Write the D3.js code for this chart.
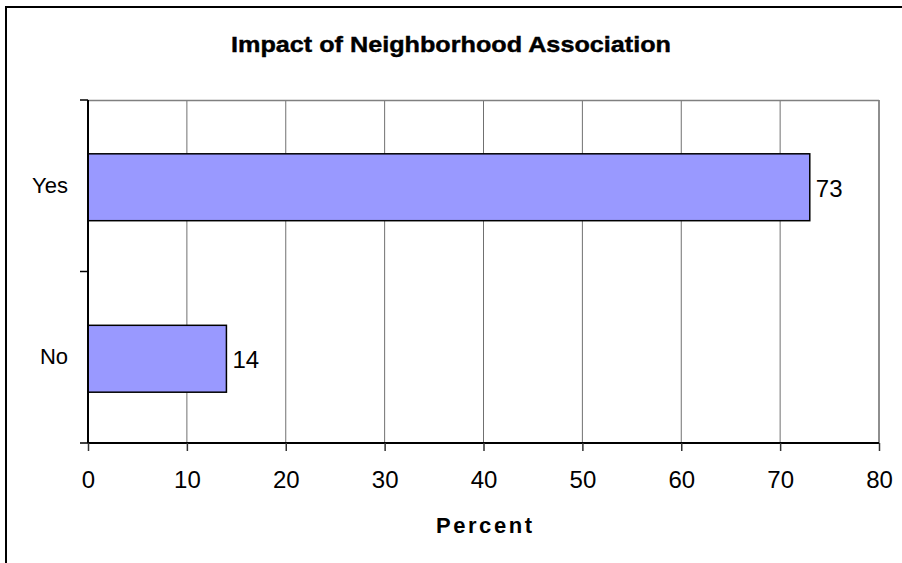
<!DOCTYPE html>
<html><head><meta charset="utf-8">
<script src="https://cdn.jsdelivr.net/npm/d3@7"></script>
<style>
html,body{margin:0;padding:0;background:#fff;}
svg{display:block;font-family:Arial,"Liberation Sans",sans-serif;}
</style></head>
<body>
<svg id="chart" width="902" height="563"></svg>
<script>
const categories = ["Yes", "No"];
const values = [73, 14];
const xTicks = [0, 10, 20, 30, 40, 50, 60, 70, 80];
const titleText = "Impact of Neighborhood Association";
const xAxisTitle = "Percent";

const svg = d3.select("#chart");
const plot = {left: 88, right: 879, top: 100, bottom: 443};

// outer border
svg.append("rect").attr("x", 6).attr("y", 7).attr("width", 1000).attr("height", 1000)
  .attr("fill", "none").attr("stroke", "#000").attr("stroke-width", 2);

const x = d3.scaleLinear().domain([0, 80]).range([plot.left, plot.right]);
const y = d3.scaleBand().domain(categories).range([plot.top, plot.bottom]).padding(0);

// gridlines
svg.append("g").selectAll("line").data(xTicks.slice(1)).join("line")
  .attr("x1", d => x(d)).attr("x2", d => x(d))
  .attr("y1", plot.top).attr("y2", plot.bottom)
  .attr("stroke", "#707070").attr("stroke-width", 1);
svg.append("line").attr("x1", plot.left).attr("x2", plot.right)
  .attr("y1", plot.top + 0.5).attr("y2", plot.top + 0.5)
  .attr("stroke", "#808080").attr("stroke-width", 1.5);
svg.append("line").attr("x1", plot.right).attr("x2", plot.right)
  .attr("y1", plot.top).attr("y2", plot.bottom)
  .attr("stroke", "#808080").attr("stroke-width", 1.5);

// bars
const barFrac = 0.39;
svg.append("g").selectAll("rect").data(categories).join("rect")
  .attr("x", x(0))
  .attr("y", (d) => y(d) + y.bandwidth() * (1 - barFrac) / 2 + 1.5)
  .attr("width", (d, i) => x(values[i]) - x(0))
  .attr("height", y.bandwidth() * barFrac)
  .attr("fill", "#9999FF").attr("stroke", "#000").attr("stroke-width", 1.5);

// value labels
svg.append("g").selectAll("text").data(categories).join("text")
  .attr("x", (d, i) => x(values[i]) + 6)
  .attr("y", d => y(d) + y.bandwidth() / 2 + 2.5)
  .attr("dy", "0.36em")
  .attr("font-size", 24).attr("fill", "#000")
  .text((d, i) => values[i]);

// x axis
const xAxis = svg.append("g").attr("transform", `translate(0,${plot.bottom})`)
  .call(d3.axisBottom(x).tickValues(xTicks).tickSize(8).tickPadding(20));
xAxis.select(".domain").attr("stroke", "#000").attr("stroke-width", 2).attr("d", `M${plot.left},0H${plot.right}`);
xAxis.selectAll(".tick line").attr("stroke", "#333").attr("stroke-width", 1.5);
xAxis.selectAll(".tick text").attr("font-size", 24).attr("font-family", "Arial, 'Liberation Sans', sans-serif").attr("fill", "#000");

// y axis
const yAxis = svg.append("g").attr("transform", `translate(${plot.left},0)`)
  .call(d3.axisLeft(y).tickSize(0).tickPadding(20));
yAxis.select(".domain").attr("stroke", "#000").attr("stroke-width", 2).attr("d", `M0,${plot.top}V${plot.bottom}`);
yAxis.selectAll(".tick text").attr("font-size", 22).attr("font-family", "Arial, 'Liberation Sans', sans-serif").attr("fill", "#000");
// category separator ticks
const sepPos = [plot.top, y("No"), plot.bottom];
svg.append("g").selectAll("line").data(sepPos).join("line")
  .attr("x1", plot.left - 8).attr("x2", plot.left)
  .attr("y1", d => d).attr("y2", d => d)
  .attr("stroke", "#000").attr("stroke-width", 1.5);

// title
svg.append("text").attr("x", 451).attr("y", 52).attr("text-anchor", "middle")
  .attr("font-size", 21).attr("font-weight", "bold")
  .attr("transform", "translate(451,52) scale(1,1.02) translate(-451,-52)")
  .attr("textLength", 440).attr("lengthAdjust", "spacingAndGlyphs")
  .style("stroke", "#000").style("stroke-width", 0.4)
  .text(titleText);

// axis title
svg.append("text").attr("x", 484).attr("y", 533).attr("text-anchor", "middle")
  .attr("font-size", 22).attr("font-weight", "bold")
  .attr("textLength", 96).attr("lengthAdjust", "spacing")
  .text(xAxisTitle);
</script>
</body></html>
